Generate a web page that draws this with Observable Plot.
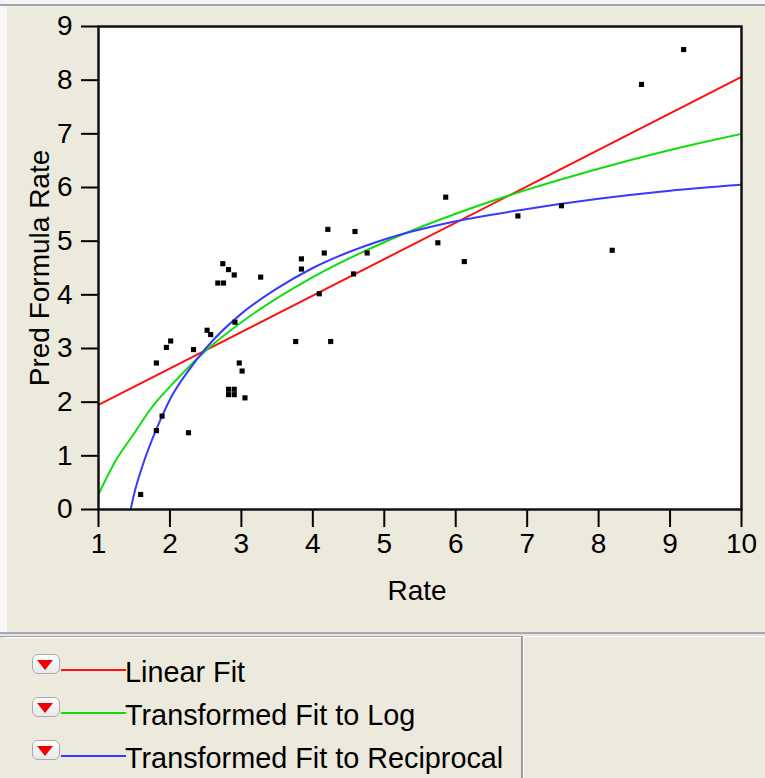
<!DOCTYPE html>
<html>
<head>
<meta charset="utf-8">
<script src="https://cdn.jsdelivr.net/npm/d3@7"></script>
<script src="https://cdn.jsdelivr.net/npm/@observablehq/plot@0.6"></script>
<style>
  html, body { margin: 0; padding: 0; background: #ECE9DD; }
  #page { position: relative; width: 765px; height: 778px; overflow: hidden; background: #ECE9DD; font-family: "Liberation Sans", Arial, sans-serif; }
  .abs { position: absolute; }
  .leg-text { position: absolute; left: 125px; font-size: 28.8px; line-height: 32px; color: #000; white-space: nowrap; }
  .btn { position: absolute; left: 32px; width: 26px; height: 18px; border: 1px solid #A9A9B0; border-radius: 6px; background: linear-gradient(#FFFFFF, #E8E8EC); }
  .tri { position: absolute; left: 37px; width: 0; height: 0; border-left: 8px solid transparent; border-right: 8px solid transparent; border-top: 10px solid #F00000; }
  .ln { position: absolute; left: 61px; width: 65px; height: 2px; }
</style>
</head>
<body>
<div id="page">
  <div class="abs" style="left:0;top:0;width:765px;height:4px;background:#F4F4F4"></div>
  <div class="abs" style="left:0;top:4px;width:765px;height:2px;background:#A2A5B0"></div>
  <div class="abs" style="left:0;top:6px;width:7px;height:626px;background:#F7F7F5"></div>
  <div id="chart" class="abs" style="left:0;top:0"></div>
  <div class="abs" style="left:0;top:632px;width:765px;height:2px;background:#A8A8AE"></div>
  <div class="abs" style="left:0;top:634px;width:765px;height:2px;background:#E4E4E8"></div>
  <div class="abs" style="left:0;top:636px;width:523px;height:1px;background:#A0A0A8"></div>
  <div class="abs" style="left:523px;top:636px;width:242px;height:1px;background:#FFFFFF"></div>
  <div class="abs" style="left:5px;top:637px;width:516px;height:1px;background:#FFFFFF"></div>
  <div class="abs" style="left:521px;top:636px;width:2px;height:142px;background:#9A9AA2"></div>
  <div class="abs" style="left:523px;top:637px;width:1px;height:141px;background:#FFFFFF"></div>
  <div id="legend"></div>
</div>
<script>
// ---- data ----
const rate = [1.59, 1.81, 1.89, 1.81, 1.95, 2.01, 2.26, 2.33, 2.52, 2.57,
              2.67, 2.75, 2.74, 2.82, 2.90, 2.91, 2.97, 3.01,
              2.82, 2.90, 2.82, 2.90, 3.05, 3.27, 3.76, 4.25, 4.09, 4.57,
              3.84, 3.84, 4.16, 4.21, 4.59, 4.76, 5.86, 5.75, 6.12, 6.87,
              7.48, 8.19, 8.60, 9.19];
const predRate = [0.28, 1.47, 1.74, 2.73, 3.02, 3.14, 1.43, 2.98, 3.34, 3.26,
                  4.22, 4.22, 4.58, 4.47, 4.37, 3.49, 2.73, 2.58,
                  2.14, 2.14, 2.24, 2.24, 2.08, 4.33, 3.13, 3.13, 4.02, 4.39,
                  4.67, 4.48, 4.78, 5.22, 5.18, 4.78, 5.82, 4.97, 4.62, 5.47,
                  5.66, 4.83, 7.92, 8.57];

const linearX = [1, 10];
const linearY = [1.95, 8.06];

const logX = [1, 1.25, 1.5, 1.75, 2, 2.5, 3, 4, 5, 6, 7, 8, 9, 10];
const logY = [0.28, 0.93, 1.42, 1.91, 2.29, 2.96, 3.49, 4.33, 4.98, 5.51, 5.96, 6.35, 6.70, 7.00];

const recipX = [1.45, 1.5, 1.6, 1.75, 1.89, 2, 2.25, 2.5, 3, 3.5, 4, 5, 6, 7, 8, 9, 10];
const recipY = [0, 0.3, 0.75, 1.3, 1.74, 2.05, 2.57, 3.0, 3.65, 4.12, 4.5, 5.03, 5.37, 5.6, 5.79, 5.94, 6.05];

const xTicks = [1, 2, 3, 4, 5, 6, 7, 8, 9, 10];
const yTicks = [0, 1, 2, 3, 4, 5, 6, 7, 8, 9];

const fitNames = ["Linear Fit", "Transformed Fit to Log", "Transformed Fit to Reciprocal"];
const fitColors = ["#FF1010", "#10DD10", "#3A3AFF"];

// ---- build tables ----
const points = rate.map((r, i) => ({x: r, y: predRate[i]}));
const mk = (xs, ys, name) => xs.map((x, i) => ({x, y: ys[i], fit: name}));
const fits = [
  ...mk(linearX, linearY, fitNames[0]),
  ...mk(logX, logY, fitNames[1]),
  ...mk(recipX, recipY, fitNames[2])
];

const chart = Plot.plot({
  width: 765,
  height: 632,
  marginLeft: 98,
  marginRight: 24,
  marginTop: 26,
  marginBottom: 123,
  style: {background: "transparent", fontFamily: "Liberation Sans, Arial, sans-serif", fontSize: "28px", color: "#000", overflow: "visible"},
  x: {domain: [1, 10]},
  y: {domain: [0, 9]},
  color: {domain: fitNames, range: fitColors},
  marks: [
    Plot.frame({fill: "white", stroke: null}),
    Plot.axisX({ticks: xTicks, tickSize: 18, tickPadding: 6, strokeWidth: 2, label: null, fontSize: 28, tickFormat: d => String(d)}),
    Plot.axisY({ticks: yTicks, tickSize: 17, tickPadding: 9, strokeWidth: 2, label: null, fontSize: 28, tickFormat: d => String(d)}),
    Plot.line(fits, {x: "x", y: "y", z: "fit", stroke: "fit", strokeWidth: 2, curve: "monotone-x", clip: true}),
    Plot.dot(points, {x: "x", y: "y", symbol: "square", r: 2.9, fill: "black", stroke: null}),
    Plot.frame({stroke: "#111", strokeWidth: 2.5}),
    Plot.text(["Rate"], {text: d => d, frameAnchor: "bottom", dy: 82, dx: -3, fontSize: 28, lineAnchor: "middle"}),
    Plot.text(["Pred Formula Rate"], {text: d => d, frameAnchor: "left", dx: -58, rotate: -90, fontSize: 28, textAnchor: "middle", lineAnchor: "middle"})
  ]
});
document.getElementById("chart").appendChild(chart);

// ---- legend ----
const legend = document.getElementById("legend");
const rowCenters = [671, 714, 757];
fitNames.forEach((name, i) => {
  const c = rowCenters[i];
  legend.insertAdjacentHTML("beforeend",
    `<div class="btn" style="top:${c - 17}px"></div>` +
    `<div class="tri" style="top:${c - 11}px"></div>` +
    `<div class="ln" style="top:${c - 2}px;background:${fitColors[i]}"></div>` +
    `<div class="leg-text" style="top:${c - 15}px">${name}</div>`);
});
</script>
</body>
</html>
